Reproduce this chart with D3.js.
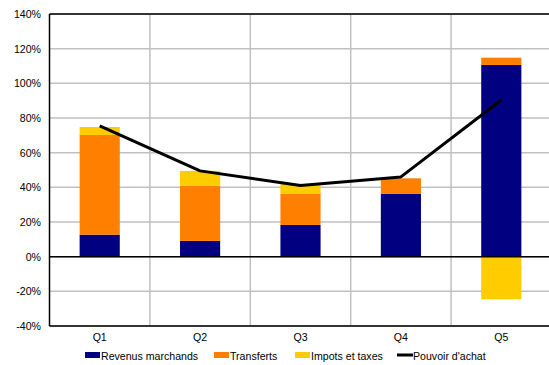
<!DOCTYPE html>
<html>
<head>
<meta charset="utf-8">
<script src="https://cdn.jsdelivr.net/npm/d3@7"></script>
<style>
  html, body { margin: 0; padding: 0; background: #fff; }
  svg { display: block; font-family: "Liberation Sans", Arial, sans-serif; }
</style>
</head>
<body>
<svg id="chart" width="549" height="365"></svg>
<script>
// Quintiles and their stacked contributions (percent)
const categories = ["Q1", "Q2", "Q3", "Q4", "Q5"];
const revenusMarchands = [12.7, 9.1, 18.3, 36.2, 110.6];
const transferts = [57.5, 31.9, 18.1, 9.0, 4.2];
const impotsTaxes = [4.6, 8.5, 5.6, 0, -24.6];
const pouvoirAchat = [75.4, 49.5, 41.0, 46.0, 90.4];
const yTicks = [-40, -20, 0, 20, 40, 60, 80, 100, 120, 140];

const seriesNames = ["Revenus marchands", "Transferts", "Impots et taxes", "Pouvoir d'achat"];
const colors = ["#000080", "#ff8000", "#ffcc00", "#000000"];

const svg = d3.select("#chart");
const plotL = 49.5, plotR = 551.5, plotT = 14, plotB = 326;
const fontSize = 10.6;

const x = d3.scaleBand().domain(categories).range([plotL, plotR]).padding(0);
const y = d3.scaleLinear().domain([-40, 140]).range([plotB, plotT]);

// grid
const grid = svg.append("g");
grid.selectAll("line.h").data(yTicks).join("line").attr("class", "h")
  .attr("x1", plotL).attr("x2", plotR)
  .attr("y1", d => y(d)).attr("y2", d => y(d))
  .attr("stroke", "#c0c0c0").attr("stroke-width", 1.5);
grid.selectAll("line.v").data(categories.slice(1)).join("line").attr("class", "v")
  .attr("x1", d => x(d)).attr("x2", d => x(d))
  .attr("y1", plotT).attr("y2", plotB)
  .attr("stroke", "#c0c0c0").attr("stroke-width", 1.5);

// stacked bars
const barW = x.bandwidth() * 0.4;
const stacks = categories.map((c, i) => {
  const parts = [revenusMarchands[i], transferts[i], impotsTaxes[i]];
  let pos = 0, neg = 0;
  return parts.map((v, k) => {
    let y0, y1;
    if (v >= 0) { y0 = pos; y1 = pos + v; pos = y1; }
    else { y0 = neg; y1 = neg + v; neg = y1; }
    return { c, k, y0, y1 };
  });
}).flat();

svg.append("g").selectAll("rect").data(stacks.filter(d => d.y0 !== d.y1)).join("rect")
  .attr("x", d => x(d.c) + (x.bandwidth() - barW) / 2)
  .attr("width", barW)
  .attr("y", d => y(Math.max(d.y0, d.y1)))
  .attr("height", d => Math.abs(y(d.y0) - y(d.y1)))
  .attr("fill", d => colors[d.k]);

// frame and zero line
const frame = svg.append("g").attr("stroke", "#000").attr("stroke-width", 1.5);
frame.append("line").attr("x1", plotL).attr("x2", plotR).attr("y1", plotT).attr("y2", plotT);
frame.append("line").attr("x1", plotL).attr("x2", plotR).attr("y1", plotB).attr("y2", plotB);
frame.append("line").attr("x1", plotL).attr("x2", plotR).attr("y1", y(0)).attr("y2", y(0));
frame.append("line").attr("x1", plotL).attr("x2", plotL).attr("y1", plotT).attr("y2", plotB);

// purchasing power line
const line = d3.line().x((d, i) => x(categories[i]) + x.bandwidth() / 2).y(d => y(d));
svg.append("path").datum(pouvoirAchat)
  .attr("d", line).attr("fill", "none")
  .attr("stroke", "#000").attr("stroke-width", 3).attr("stroke-linejoin", "round");

// y tick labels
svg.append("g").selectAll("text").data(yTicks).join("text")
  .attr("x", 41).attr("y", d => y(d) + 4)
  .attr("text-anchor", "end").attr("font-size", fontSize).attr("fill", "#000")
  .text(d => d + "%");

// category labels
svg.append("g").selectAll("text").data(categories).join("text")
  .attr("x", d => x(d) + x.bandwidth() / 2).attr("y", 341)
  .attr("text-anchor", "middle").attr("font-size", fontSize).attr("fill", "#000")
  .text(d => d);

// legend
const legendX = [85, 214, 295, 397];
const lg = svg.append("g");
seriesNames.forEach((name, i) => {
  if (i < 3) {
    lg.append("rect").attr("x", legendX[i]).attr("y", 352).attr("width", 15).attr("height", 6)
      .attr("fill", colors[i]);
  } else {
    lg.append("line").attr("x1", legendX[i]).attr("x2", legendX[i] + 16)
      .attr("y1", 355).attr("y2", 355).attr("stroke", colors[i]).attr("stroke-width", 3);
  }
  lg.append("text").attr("x", legendX[i] + 16).attr("y", 359.5)
    .attr("font-size", fontSize).attr("fill", "#000").text(name);
});
</script>
</body>
</html>
